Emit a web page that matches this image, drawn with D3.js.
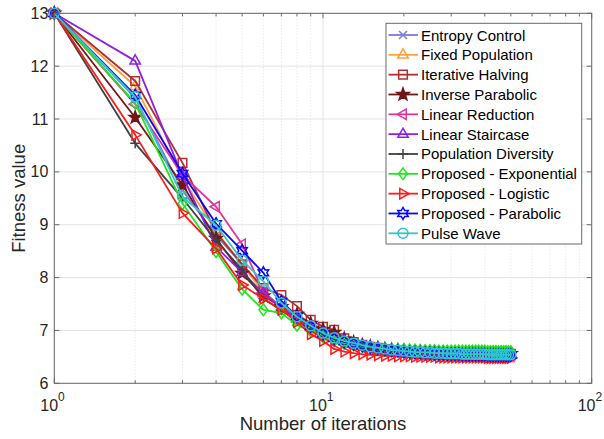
<!DOCTYPE html>
<html><head><meta charset="utf-8">
<script src="https://cdn.jsdelivr.net/npm/d3@7"></script>
<style>body{margin:0;background:#fff} svg{display:block;font-family:"Liberation Sans",Arial,sans-serif}</style>
</head><body><svg id="c" width="604" height="439"></svg>
<script>
const iterations = d3.range(1, 51);
const seriesNames = ["Entropy Control","Fixed Population","Iterative Halving","Inverse Parabolic","Linear Reduction","Linear Staircase","Population Diversity","Proposed - Exponential","Proposed - Logistic","Proposed - Parabolic","Pulse Wave"];
const seriesColors = ["#7a7ad8","#ffa040","#b03030","#701818","#e0359e","#9020e0","#404040","#1ee61e","#ff1a1a","#0808ff","#30c8c8"];
const seriesMarkers = ["x","triUp","square","pentagram","triLeft","triUp","plus","diamond","triRight","hexagram","circle"];

const entropyControl = [
13.00, 11.40, 9.65, 8.80, 8.25, 7.75, 7.42, 7.22, 7.06, 6.94,
6.85, 6.79, 6.74, 6.71, 6.68, 6.66, 6.64, 6.62, 6.61, 6.60,
6.59, 6.59, 6.58, 6.58, 6.57, 6.57, 6.57, 6.56, 6.56, 6.56,
6.56, 6.56, 6.56, 6.55, 6.55, 6.55, 6.55, 6.55, 6.55, 6.55,
6.55, 6.55, 6.55, 6.55, 6.55, 6.55, 6.55, 6.55, 6.55, 6.55];
const fixedPopulation = [
13.00, 11.62, 9.88, 8.88, 8.25, 7.72, 7.45, 7.24, 7.08, 6.95,
6.86, 6.79, 6.74, 6.71, 6.68, 6.66, 6.64, 6.62, 6.61, 6.60,
6.59, 6.59, 6.58, 6.58, 6.57, 6.57, 6.57, 6.57, 6.56, 6.56,
6.56, 6.56, 6.56, 6.56, 6.56, 6.56, 6.55, 6.55, 6.55, 6.55,
6.55, 6.55, 6.55, 6.55, 6.55, 6.55, 6.55, 6.55, 6.55, 6.55];
const iterativeHalving = [
13.00, 11.72, 10.17, 8.85, 8.25, 7.80, 7.67, 7.46, 7.20, 7.07,
7.01, 6.85, 6.78, 6.73, 6.69, 6.67, 6.65, 6.63, 6.62, 6.61,
6.60, 6.59, 6.59, 6.58, 6.58, 6.57, 6.57, 6.57, 6.57, 6.57,
6.56, 6.56, 6.56, 6.56, 6.56, 6.56, 6.56, 6.56, 6.56, 6.56,
6.56, 6.56, 6.56, 6.56, 6.56, 6.56, 6.56, 6.56, 6.56, 6.56];
const inverseParabolic = [
13.00, 11.03, 9.75, 8.74, 8.08, 7.65, 7.45, 7.30, 7.13, 7.02,
6.96, 6.84, 6.77, 6.72, 6.69, 6.66, 6.64, 6.63, 6.62, 6.61,
6.60, 6.59, 6.59, 6.58, 6.58, 6.58, 6.57, 6.57, 6.57, 6.57,
6.57, 6.57, 6.56, 6.56, 6.56, 6.56, 6.56, 6.56, 6.56, 6.56,
6.56, 6.56, 6.56, 6.56, 6.56, 6.56, 6.56, 6.56, 6.56, 6.56];
const linearReduction = [
13.00, 11.28, 9.94, 9.34, 8.63, 7.72, 7.45, 7.24, 7.08, 6.95,
6.85, 6.78, 6.73, 6.69, 6.66, 6.64, 6.62, 6.60, 6.59, 6.58,
6.57, 6.56, 6.56, 6.55, 6.55, 6.54, 6.54, 6.54, 6.53, 6.53,
6.53, 6.53, 6.53, 6.52, 6.52, 6.52, 6.52, 6.52, 6.52, 6.52,
6.52, 6.52, 6.51, 6.51, 6.51, 6.51, 6.51, 6.51, 6.51, 6.51];
const linearStaircase = [
13.00, 12.10, 9.92, 8.58, 8.10, 7.70, 7.42, 7.22, 7.06, 6.95,
6.86, 6.80, 6.75, 6.72, 6.69, 6.67, 6.65, 6.64, 6.63, 6.62,
6.61, 6.60, 6.60, 6.59, 6.59, 6.58, 6.58, 6.58, 6.57, 6.57,
6.57, 6.57, 6.57, 6.57, 6.56, 6.56, 6.56, 6.56, 6.56, 6.56,
6.56, 6.56, 6.56, 6.56, 6.56, 6.56, 6.56, 6.56, 6.56, 6.56];
const populationDiversity = [
13.00, 10.54, 9.50, 8.70, 8.15, 7.60, 7.38, 7.18, 7.02, 6.90,
6.82, 6.76, 6.72, 6.69, 6.66, 6.64, 6.62, 6.61, 6.60, 6.59,
6.58, 6.58, 6.57, 6.57, 6.56, 6.56, 6.56, 6.55, 6.55, 6.55,
6.55, 6.55, 6.55, 6.55, 6.55, 6.55, 6.54, 6.54, 6.54, 6.54,
6.54, 6.54, 6.54, 6.54, 6.54, 6.54, 6.54, 6.54, 6.54, 6.54];
const proposedExponential = [
13.00, 11.30, 9.40, 8.49, 7.78, 7.39, 7.33, 7.10, 6.99, 6.88,
6.80, 6.75, 6.72, 6.70, 6.68, 6.67, 6.66, 6.65, 6.64, 6.64,
6.63, 6.63, 6.62, 6.62, 6.62, 6.62, 6.61, 6.61, 6.61, 6.61,
6.61, 6.61, 6.61, 6.61, 6.61, 6.61, 6.61, 6.61, 6.61, 6.61,
6.60, 6.60, 6.60, 6.60, 6.60, 6.60, 6.60, 6.60, 6.60, 6.60];
const proposedLogistic = [
13.00, 10.70, 9.22, 8.55, 7.86, 7.60, 7.39, 7.16, 6.93, 6.80,
6.65, 6.60, 6.57, 6.55, 6.54, 6.53, 6.52, 6.52, 6.51, 6.51,
6.51, 6.50, 6.50, 6.50, 6.50, 6.50, 6.49, 6.49, 6.49, 6.49,
6.49, 6.49, 6.49, 6.49, 6.49, 6.49, 6.49, 6.49, 6.49, 6.49,
6.48, 6.48, 6.48, 6.48, 6.48, 6.48, 6.48, 6.48, 6.48, 6.48];
const proposedParabolic = [
13.00, 11.45, 9.97, 9.02, 8.51, 8.09, 7.55, 7.27, 7.08, 6.94,
6.85, 6.79, 6.75, 6.71, 6.68, 6.66, 6.64, 6.62, 6.61, 6.60,
6.59, 6.58, 6.58, 6.57, 6.57, 6.56, 6.56, 6.56, 6.55, 6.55,
6.55, 6.55, 6.54, 6.54, 6.54, 6.54, 6.54, 6.54, 6.54, 6.54,
6.53, 6.53, 6.53, 6.53, 6.53, 6.53, 6.53, 6.53, 6.53, 6.53];
const pulseWave = [
13.00, 11.42, 9.53, 8.99, 8.33, 7.93, 7.52, 7.26, 7.09, 6.95,
6.86, 6.80, 6.76, 6.72, 6.69, 6.67, 6.65, 6.63, 6.62, 6.61,
6.60, 6.59, 6.59, 6.58, 6.58, 6.57, 6.57, 6.57, 6.56, 6.56,
6.56, 6.56, 6.55, 6.55, 6.55, 6.55, 6.55, 6.55, 6.55, 6.55,
6.54, 6.54, 6.54, 6.54, 6.54, 6.54, 6.54, 6.54, 6.54, 6.54];

const seriesValues = [entropyControl, fixedPopulation, iterativeHalving, inverseParabolic, linearReduction, linearStaircase, populationDiversity, proposedExponential, proposedLogistic, proposedParabolic, pulseWave];
const yTicks = [6, 7, 8, 9, 10, 11, 12, 13];
const xTickExponents = [0, 1, 2];
const xLabel = "Number of iterations";
const yLabel = "Fitness value";

const L = 54.3, R = 591.7, T = 13.3, B = 383.3;
const x = d3.scaleLog().domain([1, 100]).range([L, R]);
const y = d3.scaleLinear().domain([6, 13]).range([B, T]);
const svg = d3.select("#c");

function star(n, ro, ri) {
  let p = [];
  for (let i = 0; i < 2 * n; i++) {
    const a = -Math.PI / 2 + i * Math.PI / n;
    const r = i % 2 ? ri : ro;
    p.push([r * Math.cos(a), r * Math.sin(a)]);
  }
  return "M" + p.map(q => q[0].toFixed(2) + "," + q[1].toFixed(2)).join("L") + "Z";
}
function markerPath(t) {
  switch (t) {
    case "x": return "M-4,-4L4,4M-4,4L4,-4";
    case "plus": return "M-5,0L5,0M0,-5L0,5";
    case "triUp": return "M0,-6L5.2,3.2L-5.2,3.2Z";
    case "triLeft": return "M-6,0L3.2,-5.2L3.2,5.2Z";
    case "triRight": return "M6,0L-3.2,-5.2L-3.2,5.2Z";
    case "square": return "M-4.3,-4.3H4.3V4.3H-4.3Z";
    case "diamond": return "M0,-5.8L4.4,0L0,5.8L-4.4,0Z";
    case "circle": return "M5,0A5,5 0 1,1 -5,0A5,5 0 1,1 5,0Z";
    case "pentagram": return star(5, 6.5, 2.6);
    case "hexagram": return star(6, 6, 3.4);
  }
}

// grid
const g = svg.append("g");
yTicks.forEach(v => g.append("line").attr("x1", L).attr("x2", R).attr("y1", y(v)).attr("y2", y(v)).attr("stroke", "#e3e3e3").attr("stroke-width", 1));
const minorX = [];
[1, 10].forEach(d => { for (let k = 2; k <= 9; k++) minorX.push(d * k); });
minorX.forEach(v => g.append("line").attr("x1", x(v)).attr("x2", x(v)).attr("y1", T).attr("y2", B).attr("stroke", "#d9d9d9").attr("stroke-width", 0.8).attr("stroke-dasharray", "1,2"));
xTickExponents.forEach(e => g.append("line").attr("x1", x(Math.pow(10, e))).attr("x2", x(Math.pow(10, e))).attr("y1", T).attr("y2", B).attr("stroke", "#e3e3e3"));

// series
const line = d3.line().x((d, i) => x(iterations[i])).y(d => y(d));
seriesValues.forEach((vals, si) => {
  const sg = svg.append("g");
  const c = seriesColors[si];
  sg.append("path").attr("d", line(vals)).attr("fill", "none").attr("stroke", c).attr("stroke-width", 1.8).attr("stroke-linejoin", "round");
  sg.selectAll("path.m").data(vals).join("path").attr("class", "m")
    .attr("d", markerPath(seriesMarkers[si]))
    .attr("transform", (d, i) => `translate(${x(iterations[i])},${y(d)})`)
    .attr("fill", seriesMarkers[si] === "pentagram" ? c : "none").attr("stroke", c).attr("stroke-width", 1.5);
});

// box and ticks
const ax = svg.append("g").attr("stroke", "#6a6a6a").attr("stroke-width", 1);
ax.append("rect").attr("x", L).attr("y", T).attr("width", R - L).attr("height", B - T).attr("fill", "none");
yTicks.forEach(v => {
  ax.append("line").attr("x1", L).attr("x2", L + 5).attr("y1", y(v)).attr("y2", y(v));
  ax.append("line").attr("x1", R).attr("x2", R - 5).attr("y1", y(v)).attr("y2", y(v));
});
xTickExponents.forEach(e => {
  const xv = x(Math.pow(10, e));
  ax.append("line").attr("x1", xv).attr("x2", xv).attr("y1", B).attr("y2", B - 5);
  ax.append("line").attr("x1", xv).attr("x2", xv).attr("y1", T).attr("y2", T + 5);
});
minorX.forEach(v => {
  ax.append("line").attr("x1", x(v)).attr("x2", x(v)).attr("y1", B).attr("y2", B - 3);
  ax.append("line").attr("x1", x(v)).attr("x2", x(v)).attr("y1", T).attr("y2", T + 3);
});

// tick labels
const tl = svg.append("g").attr("fill", "#262626").attr("font-size", 16);
yTicks.forEach(v => tl.append("text").attr("x", L - 6).attr("y", y(v) + 5.5).attr("text-anchor", "end").text(v));
xTickExponents.forEach(e => {
  const t = tl.append("text").attr("x", x(Math.pow(10, e)) - 14).attr("y", 411);
  t.append("tspan").text("10");
  t.append("tspan").attr("dy", -10).attr("font-size", 12).text(e);
});
svg.append("text").attr("x", (L + R) / 2).attr("y", 430).attr("text-anchor", "middle").attr("font-size", 18.5).attr("fill", "#262626").text(xLabel);
svg.append("text").attr("transform", `translate(25,${(T + B) / 2}) rotate(-90)`).attr("text-anchor", "middle").attr("font-size", 18.5).attr("fill", "#262626").text(yLabel);

// legend
const lg = svg.append("g");
lg.append("rect").attr("x", 386).attr("y", 23.3).attr("width", 195.7).attr("height", 220.7).attr("fill", "#fff").attr("stroke", "#6a6a6a");
seriesNames.forEach((n, i) => {
  const yy = 35 + i * 19.83;
  const c = seriesColors[i];
  lg.append("line").attr("x1", 388.5).attr("x2", 418).attr("y1", yy).attr("y2", yy).attr("stroke", c).attr("stroke-width", 1.8);
  lg.append("path").attr("d", markerPath(seriesMarkers[i])).attr("transform", `translate(403,${yy})`)
    .attr("fill", seriesMarkers[i] === "pentagram" ? c : "none").attr("stroke", c).attr("stroke-width", 1.5);
  lg.append("text").attr("x", 421).attr("y", yy + 5.5).attr("font-size", 15).attr("fill", "#000").text(n);
});
</script></body></html>
